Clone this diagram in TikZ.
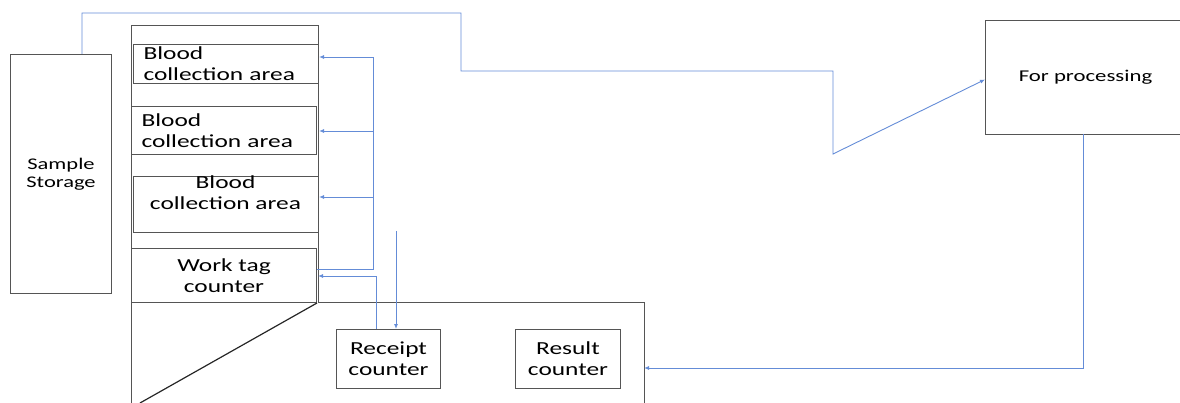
\documentclass[tikz,border=0pt]{standalone}
\usepackage{fontspec}
\setmainfont{Carlito}[FakeStretch=1.38]
\usetikzlibrary{arrows.meta,calc}
\definecolor{flowblue}{RGB}{100,140,215}
\definecolor{edge}{RGB}{85,85,85}

\begin{document}
\begin{tikzpicture}[x=1pt,y=-1pt,
  box/.style={draw=edge, line width=1pt, inner sep=0pt, anchor=north west},
  lefttext/.style={align=left, inner xsep=10pt, text width=165pt},
  big/.style={font=\fontsize{18.4}{21}\selectfont},
  flow/.style={draw=flowblue, line width=0.9pt},
  tip/.style={-{Latex[length=5pt,width=4pt]}},
  wall/.style={draw=edge, line width=1pt},
  slant/.style={draw=black!85, line width=1.2pt}]

\useasboundingbox (0,0) rectangle (1180,403);

% storage block on the left
\node[box, minimum width=101pt, minimum height=239pt, align=center,
      font=\fontsize{16.3}{18}\selectfont] (ss) at (10,54) {Sample\\Storage};

% outline of the collection column and the counter hall
\draw[wall] (131,403) -- (131,26) -- (318,26) -- (318,302) -- (644,302) -- (644,403);

% rooms inside the column
\node[box, big, lefttext, minimum height=39pt] (b1) at (133,44) {Blood\\collection area};
\node[box, big, lefttext, minimum height=48pt] (b2) at (131,106) {Blood\\collection area};
\node[box, minimum width=185pt, minimum height=56pt] (b3) at (133,176) {};
\node[big, align=center, inner sep=0pt] (b3t) at (225.5,193) {Blood\\collection area};
\node[box, big, align=center, minimum width=185pt, minimum height=54pt] (wt) at (131,248) {Work tag\\counter};

% slanted wall under the work tag counter
\coordinate (slantEnd) at (140,403);
\draw[slant] (wt.south east) -- (slantEnd);

% counters in the hall
\node[box, big, align=center, minimum width=104pt, minimum height=59pt] (rc) at (336,329) {Receipt\\counter};
\node[box, big, align=center, minimum width=105pt, minimum height=59pt] (rs) at (515,329) {Result\\counter};

% processing room
\node[box, align=center, font=\fontsize{16.5}{19}\selectfont,
      minimum width=200pt, minimum height=114pt] (fp) at (985,20) {For processing};

% samples sent for processing
\coordinate (ssOut) at (82,54);
\draw[flow, tip] (ssOut) -- (82,13) -- (461,13) -- (461,71) -- (833,71) -- (833,154)
      -- ($(fp.west)+(0,2)$);

% distribution from the work tag counter to the collection rooms
\coordinate (trunkTop) at (373,57);
\coordinate (trunkBot) at (373,269);
\coordinate (t2) at (373,131);
\coordinate (t3) at (373,197);
\draw[flow] (wt.east |- trunkBot) -- (trunkBot) -- (trunkTop);
\draw[flow, tip] (trunkTop) -- (trunkTop -| b1.east);
\draw[flow, tip] (t2) -- (t2 -| b1.east);
\draw[flow, tip] (t3) -- (t3 -| b1.east);

% receipt counter back to the work tag counter
\coordinate (rcUp) at (376,329);
\coordinate (wtIn) at (318,276);
\draw[flow, tip] (rcUp) |- (wtIn);

% arrivals at the receipt counter
\coordinate (inTop) at (396,231);
\draw[flow, tip] (inTop) -- (inTop |- rc.north);

% results back to the hall
\coordinate (fpOut) at (1083,134);
\coordinate (hallIn) at (644,368);
\draw[flow, tip] (fpOut) |- (hallIn);

\end{tikzpicture}
\end{document}
